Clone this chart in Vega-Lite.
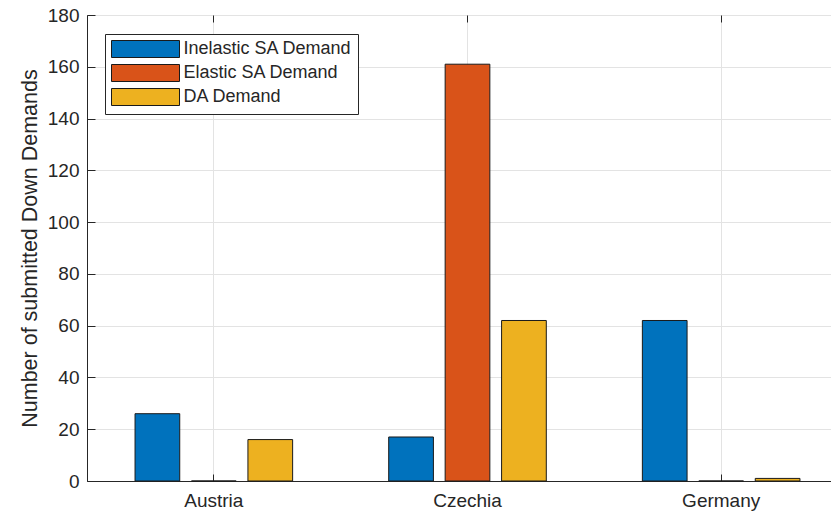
{
  "$schema": "https://vega.github.io/schema/vega-lite/v6.json",
  "width": 744,
  "height": 466,
  "autosize": {"type": "none"},
  "padding": {"left": 87, "top": 15, "right": 0, "bottom": 32},
  "background": "white",
  "config": {
    "font": "Liberation Sans",
    "view": {"stroke": "#262626", "strokeWidth": 1}
  },
  "data": {
    "values": [
      {"country": "Austria", "series": "Inelastic SA Demand", "value": 26},
      {"country": "Austria", "series": "Elastic SA Demand", "value": 0},
      {"country": "Austria", "series": "DA Demand", "value": 16},
      {"country": "Czechia", "series": "Inelastic SA Demand", "value": 17},
      {"country": "Czechia", "series": "Elastic SA Demand", "value": 161},
      {"country": "Czechia", "series": "DA Demand", "value": 62},
      {"country": "Germany", "series": "Inelastic SA Demand", "value": 62},
      {"country": "Germany", "series": "Elastic SA Demand", "value": 0},
      {"country": "Germany", "series": "DA Demand", "value": 1}
    ]
  },
  "layer": [
    {
      "mark": {"type": "bar", "stroke": "#1a1a1a", "strokeWidth": 1},
      "encoding": {
        "x": {
          "field": "country",
          "type": "nominal",
          "sort": ["Austria", "Czechia", "Germany"],
          "scale": {"range": [0, 761], "paddingInner": 0, "paddingOuter": 0},
          "axis": {
            "title": null,
            "labelAngle": 0,
            "labelFontSize": 19,
            "labelColor": "#262626",
            "labelPadding": 17,
            "tickSize": -7,
            "tickColor": "#262626",
            "domainColor": "#262626",
            "grid": true,
            "gridColor": "#e3e3e3"
          }
        },
        "xOffset": {
          "field": "series",
          "type": "nominal",
          "sort": ["Inelastic SA Demand", "Elastic SA Demand", "DA Demand"],
          "scale": {"paddingInner": 0.208, "paddingOuter": 0.851}
        },
        "y": {
          "field": "value",
          "type": "quantitative",
          "scale": {"domain": [0, 180], "nice": false},
          "axis": {
            "values": [0, 20, 40, 60, 80, 100, 120, 140, 160, 180],
            "title": "Number of submitted Down Demands",
            "titleFontSize": 21.5,
            "titleFontWeight": "normal",
            "titleColor": "#262626",
            "titlePadding": 6,
            "labelFontSize": 19,
            "labelColor": "#262626",
            "labelPadding": 16,
            "tickSize": -8,
            "tickColor": "#262626",
            "domainColor": "#262626",
            "gridColor": "#e3e3e3"
          }
        },
        "color": {
          "field": "series",
          "type": "nominal",
          "sort": ["Inelastic SA Demand", "Elastic SA Demand", "DA Demand"],
          "scale": {
            "domain": ["Inelastic SA Demand", "Elastic SA Demand", "DA Demand"],
            "range": ["#0072BD", "#D95319", "#EDB120"]
          },
          "legend": {
            "orient": "none",
            "legendX": 18,
            "legendY": 19,
            "title": null,
            "symbolType": "M-1,-1H7V1H-1Z",
            "symbolSize": 289,
            "symbolStrokeColor": "#1a1a1a",
            "symbolStrokeWidth": 1,
            "symbolOpacity": 1,
            "labelFontSize": 18,
            "labelColor": "#262626",
            "labelOffset": 54.5,
            "labelLimit": 400,
            "padding": 6,
            "rowPadding": 2,
            "strokeColor": "#262626",
            "fillColor": "white",
            "cornerRadius": 0
          }
        }
      }
    },
    {
      "mark": {"type": "bar", "opacity": 0},
      "encoding": {
        "x": {
          "field": "country",
          "type": "nominal",
          "sort": ["Austria", "Czechia", "Germany"],
          "scale": {"range": [0, 761], "paddingInner": 0, "paddingOuter": 0},
          "axis": {
            "orient": "top",
            "title": null,
            "labels": false,
            "domain": false,
            "grid": false,
            "tickSize": -7,
            "tickColor": "#262626"
          }
        }
      }
    }
  ],
  "resolve": {"axis": {"x": "independent"}}
}
